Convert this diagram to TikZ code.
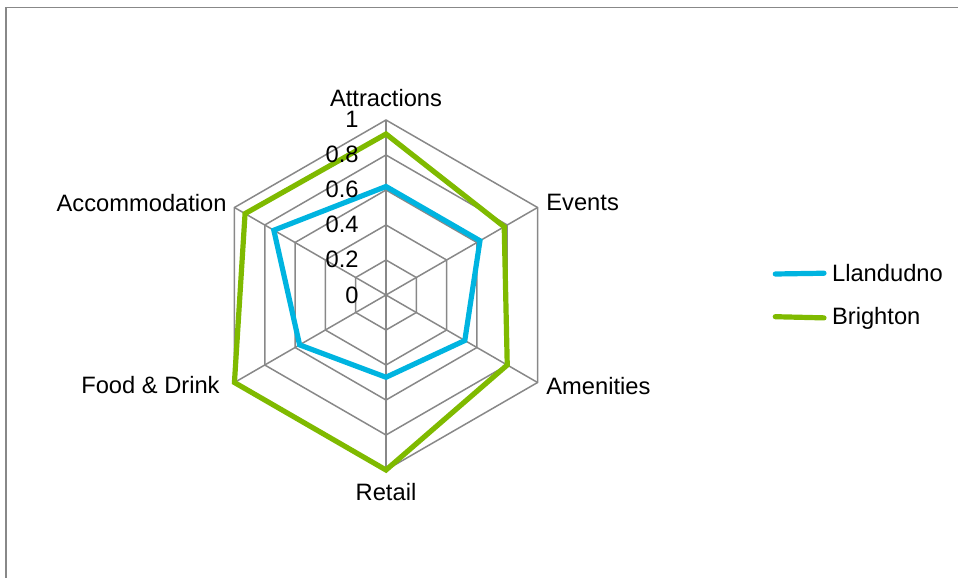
\documentclass[tikz,border=0pt]{standalone}
\usepackage{fontspec}
\setmainfont{Liberation Sans}
\usetikzlibrary{calc}
\definecolor{llblue}{HTML}{00B4E0}
\definecolor{brgreen}{HTML}{7FBA00}
\definecolor{gridgray}{HTML}{888888}
\tikzset{
  gridline/.style={gridgray, line width=0.75pt},
  seriesline/.style={line width=2.6pt, line join=miter},
  chartlabel/.style={inner sep=0pt, font=\fontsize{11.85}{14}\selectfont},
}

\begin{document}
\begin{tikzpicture}[x=0.5pt, y=0.5pt]
\useasboundingbox (-386,-283) rectangle (572,295);
\def\R{175}
% frame of the chart area
\draw[gridgray, line width=0.8pt] (-380,-283) -- (-380,287.5) -- (572,287.5);

% hexagonal grid
\foreach \k in {1,...,5} {
 \pgfmathsetmacro{\r}{\k*\R/5}
 \draw[gridline] (90:\r) -- (30:\r) -- (-30:\r) -- (-90:\r) -- (-150:\r) -- (150:\r) -- cycle;
}
\foreach \a in {90,30,-30,-90,-150,150} {
 \draw[gridline] (0,0) -- (\a:\R);
}

% category labels
\node[chartlabel, anchor=base] (attractions) at (0,188) {Attractions};
\node[chartlabel, anchor=base west] (events) at (160,84) {Events};
\node[chartlabel, anchor=base west] (amenities) at (160,-99) {Amenities};
\node[chartlabel, anchor=base] (retail) at (0,-205.7) {Retail};
\node[chartlabel, anchor=base east] (food) at (-166,-98.3) {Food \& Drink};
\node[chartlabel, anchor=base east] (accommodation) at (-159,83.3) {Accommodation};

% series
\draw[llblue, seriesline] (90:{0.62*\R}) -- (30:{0.62*\R}) -- (-30:{0.52*\R})
  -- (-90:{0.47*\R}) -- (-150:{0.57*\R}) -- (150:{0.74*\R}) -- cycle;
\draw[brgreen, seriesline] (90:{0.92*\R}) -- (30:{0.78*\R}) -- (-30:{0.80*\R})
  -- (-90:{1.0*\R}) -- (-150:{1.0*\R}) -- (150:{0.93*\R}) -- cycle;

% scale values on top of the series
\foreach \v/\t in {0/0, 1/0.2, 2/0.4, 3/0.6, 4/0.8, 5/1} {
 \node[chartlabel, anchor=base east] (tick\v) at (-27,{\v*\R/5-8}) {\t};
}

% legend
\node[chartlabel, anchor=base west] (llandudno) at (445.7,13.3) {Llandudno};
\node[chartlabel, anchor=base west] (brighton) at (445.7,-29) {Brighton};
\coordinate (llstart) at (389.3,21);
\coordinate (brstart) at (389.3,-21.7);
\draw[llblue, seriesline, line cap=round] (llstart) -- ($(llandudno.west)+(-7.7,0)$);
\draw[brgreen, seriesline, line cap=round] (brstart) -- ($(brighton.west)+(-7.7,0)$);
\end{tikzpicture}
\end{document}
